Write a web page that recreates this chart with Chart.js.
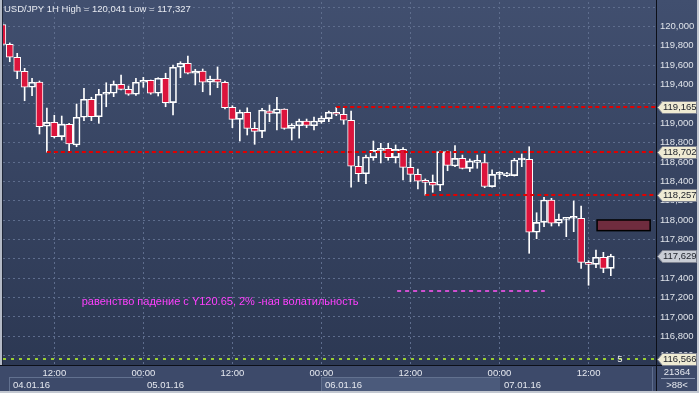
<!DOCTYPE html>
<html><head><meta charset="utf-8">
<script src="https://cdn.jsdelivr.net/npm/chart.js@4/dist/chart.umd.min.js"></script>
<style>html,body{margin:0;padding:0;background:#3a4766;overflow:hidden}#wrap{width:699px;height:393px;position:relative}</style>
</head><body><div id="wrap"><canvas id="c" width="699" height="393"></canvas></div>
<script>
// hours counted from 04.01.16 00:00
const hours = [5,6,7,8,9,10,11,12,13,14,15,16,17,18,19,20,21,22,23,24,25,26,27,28,29,30,31,32,33,34,35,36,37,38,39,40,41,42,43,44,45,46,47,48,49,50,51,52,53,54,55,56,57,58,59,60,61,62,63,64,65,66,67,68,69,70,71,72,73,74,75,76,77,78,79,80,81,82,83,84,85,86,87];
const opens = [120.019,119.816,119.682,119.537,119.372,119.427,118.969,119.010,118.862,118.990,118.776,119.062,119.248,119.068,119.300,119.310,119.403,119.351,119.300,119.424,119.444,119.310,119.465,119.213,119.579,119.620,119.517,119.540,119.424,119.458,119.424,119.165,119.041,119.114,118.948,118.917,119.130,119.103,119.148,118.948,118.975,119.024,118.975,119.017,119.048,119.114,119.093,119.031,118.556,118.479,118.645,118.721,118.742,118.645,118.731,118.545,118.473,118.404,118.390,118.360,118.707,118.559,118.638,118.535,118.597,118.595,118.345,118.473,118.459,118.459,118.621,118.628,117.874,117.977,118.208,117.967,118.008,118.019,118.019,117.564,117.543,117.616,117.502];
const highs = [120.041,119.830,119.723,119.568,119.465,119.437,119.158,119.083,119.075,119.000,119.199,119.362,119.269,119.351,119.419,119.437,119.499,119.385,119.465,119.475,119.447,119.471,119.517,119.602,119.636,119.695,119.558,119.561,119.489,119.582,119.437,119.182,119.137,119.160,119.010,119.155,119.189,119.269,119.150,118.996,119.044,119.044,119.065,119.075,119.127,119.165,119.155,119.127,118.659,118.672,118.817,118.793,118.793,118.776,118.748,118.638,118.528,118.425,118.466,118.714,118.714,118.769,118.672,118.631,118.672,118.681,118.518,118.500,118.494,118.638,118.683,118.758,118.076,118.236,118.225,118.063,118.025,118.197,118.146,117.581,117.691,117.667,117.647];
const lows = [119.800,119.636,119.461,119.233,119.285,118.889,118.702,118.848,118.827,118.707,118.758,119.027,119.027,119.000,119.171,119.275,119.344,119.289,119.289,119.372,119.300,119.282,119.171,119.086,119.471,119.510,119.396,119.326,119.292,119.368,119.148,118.955,118.817,118.879,118.783,118.851,119.017,118.931,118.938,118.827,118.845,118.955,118.931,119.000,119.017,119.079,118.990,118.339,118.397,118.376,118.618,118.590,118.618,118.590,118.414,118.397,118.321,118.257,118.287,118.304,118.510,118.552,118.528,118.500,118.535,118.335,118.340,118.425,118.448,118.455,118.552,117.657,117.808,117.932,117.939,117.939,117.829,117.880,117.502,117.327,117.508,117.457,117.426];
const closes = [119.816,119.682,119.537,119.372,119.424,118.965,119.010,118.862,118.990,118.786,119.062,119.248,119.068,119.300,119.310,119.403,119.351,119.300,119.424,119.444,119.310,119.465,119.213,119.579,119.620,119.517,119.540,119.424,119.458,119.424,119.161,119.041,119.114,118.948,118.917,119.137,119.103,119.148,118.948,118.982,119.024,118.979,119.024,119.055,119.114,119.093,119.031,118.556,118.479,118.652,118.721,118.742,118.645,118.731,118.545,118.473,118.401,118.390,118.360,118.707,118.566,118.638,118.535,118.611,118.611,118.347,118.473,118.473,118.479,118.621,118.621,117.874,117.977,118.208,117.967,118.008,118.019,118.019,117.564,117.543,117.616,117.502,117.629];

const yTickValues = [116.6,116.8,117.0,117.2,117.4,117.6,117.8,118.0,118.2,118.4,118.6,118.8,119.0,119.2,119.4,119.6,119.8,120.0,120.2];
const yTickLabels = ['116,600','116,800','117,000','117,200','117,400','117,600','117,800','118,000','118,200','118,400','118,600','118,800','119,000','119,200','119,400','119,600','119,800','120,000',''];
const xTickHours = [12,24,36,48,60,72,84];
const xTickLabels = ['12:00','00:00','12:00','00:00','12:00','00:00','12:00'];
const dateStartHours = [0,24,48,72];
const dateLabels = ['04.01.16','05.01.16','06.01.16','07.01.16'];

const titleText = 'USD/JPY 1H High = 120,041 Low = 117,327';
const levelValues = [119.165,118.702,118.257];
const levelStartHours = [50,11,62];
const currentPrice = 117.629;
const greenLevel = 116.566;
const greenLabel = '5';
const noteText = 'равенство падение с Y120.65, 2% -ная волатильность';
const noteHour = 15.7, noteValue = 117.155;
const magentaLevel = 117.268, magentaFrom = 58.2, magentaTo = 78.1;
const boxHours = [85.15, 92.3], boxValues = [117.891, 118.001];
const panelTop = '21364', panelBottom = '>88<';

const FAMILY = '"Liberation Sans", Arial, sans-serif';
const FONT = '9.5px ' + FAMILY;
const fmt = v => v.toFixed(3).replace('.', ',');

const bodyData = hours.map((h,i)=>({x:h, y:[opens[i], closes[i]]}));
const upperWick = hours.map((h,i)=>({x:h, y:[Math.max(opens[i],closes[i]), highs[i]]}));
const lowerWick = hours.map((h,i)=>({x:h, y:[lows[i], Math.min(opens[i],closes[i])]}));
const bear = hours.map((h,i)=>closes[i] < opens[i]);

const bgPlugin = {
  id:'bg',
  beforeDraw(chart){
    const {ctx, width, height, chartArea:a} = chart;
    ctx.save();
    const g = ctx.createLinearGradient(0,0,0,a.bottom);
    g.addColorStop(0,'#414f6f'); g.addColorStop(1,'#2c3853');
    ctx.fillStyle = g; ctx.fillRect(0,0,width,a.bottom);
    ctx.fillStyle = '#3d4a6a'; ctx.fillRect(0,a.bottom,width,height-a.bottom);
    ctx.restore();
  },
  beforeDatasetsDraw(chart){
    const {ctx, chartArea:a, scales:{x,y}} = chart;
    ctx.save();
    ctx.beginPath(); ctx.rect(a.left,a.top,a.right-a.left,a.bottom-a.top); ctx.clip();
    const bx0 = x.getPixelForValue(boxHours[0]), bx1 = x.getPixelForValue(boxHours[1]);
    const by0 = y.getPixelForValue(boxValues[1]), by1 = y.getPixelForValue(boxValues[0]);
    ctx.fillStyle = '#6f2c3e'; ctx.fillRect(bx0,by0,bx1-bx0,by1-by0);
    ctx.strokeStyle = '#000'; ctx.lineWidth = 1.5; ctx.strokeRect(bx0,by0,bx1-bx0,by1-by0);
    ctx.restore();
  },
  afterDatasetsDraw(chart){
    const {ctx, width, height, chartArea:a, scales:{x,y}} = chart;
    ctx.save();
    ctx.beginPath(); ctx.rect(a.left,0,a.right-a.left,a.bottom); ctx.clip();
    ctx.strokeStyle = '#e00000'; ctx.lineWidth = 2; ctx.setLineDash([4,3]);
    levelValues.forEach((v,i)=>{
      const py = Math.round(y.getPixelForValue(v));
      ctx.beginPath(); ctx.moveTo(x.getPixelForValue(levelStartHours[i]), py); ctx.lineTo(a.right, py); ctx.stroke();
    });
    const gy = Math.round(y.getPixelForValue(greenLevel));
    ctx.strokeStyle = '#9acd32'; ctx.setLineDash([3,5]);
    ctx.beginPath(); ctx.moveTo(a.left, gy); ctx.lineTo(a.right, gy); ctx.stroke();
    const my = Math.round(y.getPixelForValue(magentaLevel));
    ctx.strokeStyle = '#d050d0'; ctx.setLineDash([4,4]);
    ctx.beginPath(); ctx.moveTo(x.getPixelForValue(magentaFrom), my); ctx.lineTo(x.getPixelForValue(magentaTo), my); ctx.stroke();
    ctx.setLineDash([]);
    ctx.fillStyle = '#ff40ff'; ctx.font = '11px ' + FAMILY;
    ctx.textBaseline = 'middle'; ctx.textAlign = 'left';
    ctx.fillText(noteText, x.getPixelForValue(noteHour), y.getPixelForValue(noteValue));
    ctx.fillStyle = '#e8e8e8'; ctx.font = FONT; ctx.textAlign = 'center';
    ctx.fillText(greenLabel, 620, gy);
    ctx.fillStyle = '#e6e9f0'; ctx.textAlign = 'left';
    ctx.fillText(titleText, 4, 9);
    ctx.restore();

    ctx.save();
    ctx.fillStyle = '#b4bac6'; ctx.fillRect(0,0,2,a.bottom);
    ctx.fillStyle = '#1e2638'; ctx.fillRect(2,0,1,a.bottom);
    ctx.fillStyle = '#0c0f18';
    ctx.fillRect(a.right, 0, 1, height);
    ctx.fillRect(0, a.bottom, width, 1);
    ctx.fillStyle = '#5f6e8e';
    ctx.fillRect(a.right-4, a.bottom+2, 1, height-a.bottom-2);
    ctx.font = FONT; ctx.textBaseline = 'middle'; ctx.textAlign = 'left';
    dateLabels.forEach((lab,i)=>{
      let bx = Math.max(x.getPixelForValue(dateStartHours[i]), 9);
      let ex = i < dateLabels.length-1 ? x.getPixelForValue(dateStartHours[i+1]) : a.right-4;
      bx = Math.round(bx); ex = Math.round(ex);
      if (i === 2) { ctx.fillStyle = '#4b5a7b'; ctx.fillRect(bx, 377, ex-bx, height-377); }
      if (i % 2 === 0) {
        ctx.fillStyle = '#62718f';
        ctx.fillRect(bx, 377, ex-bx, 1);
        ctx.fillRect(bx, 377, 1, height-377);
      }
      ctx.fillStyle = '#e6e9f0';
      ctx.fillText(lab, bx+4, 385);
    });
    ctx.textAlign = 'center';
    ctx.fillText(panelTop, 677, 372);
    ctx.fillStyle = '#8d99b3'; ctx.fillRect(661, 378, 34, 1);
    ctx.fillStyle = '#e6e9f0';
    ctx.fillText(panelBottom, 677, 385);
    const tag = (v, bg) => {
      const py = Math.round(y.getPixelForValue(v)) + 0.5;
      ctx.beginPath();
      ctx.moveTo(657.5, py); ctx.lineTo(662.5, py-6); ctx.lineTo(696.5, py-6);
      ctx.lineTo(696.5, py+6); ctx.lineTo(662.5, py+6); ctx.closePath();
      ctx.fillStyle = bg; ctx.fill();
      ctx.strokeStyle = '#7d8290'; ctx.lineWidth = 1; ctx.stroke();
      ctx.fillStyle = '#20242c'; ctx.textAlign = 'left'; ctx.textBaseline = 'middle';
      ctx.fillText(fmt(v), 663, py);
    };
    levelValues.forEach(v => tag(v, '#efebd3'));
    tag(currentPrice, '#c9cdd5');
    tag(greenLevel, '#efebd3');
    ctx.fillStyle = '#c3c8d1';
    ctx.fillRect(width-2, 0, 2, height);
    ctx.fillRect(0, height-2, width, 2);
    ctx.restore();
  }
};

new Chart(document.getElementById('c'), {
  type: 'bar',
  data: {
    datasets: [
      { data: upperWick, backgroundColor: '#ffffff', borderWidth: 0, barThickness: 1, grouped: false, order: 3 },
      { data: lowerWick, backgroundColor: '#ffffff', borderWidth: 0, barThickness: 1, grouped: false, order: 2 },
      { data: bodyData, backgroundColor: ctx => bear[ctx.dataIndex] ? '#dc143c' : 'rgba(0,0,0,0)',
        borderColor: '#ffffff', borderWidth: 1, borderSkipped: false, barThickness: 7, minBarLength: 2, grouped: false, order: 1 }
    ]
  },
  options: {
    responsive: false, animation: false, devicePixelRatio: 1,
    layout: { padding: { left: 3, top: 2, right: 0, bottom: 0 } },
    plugins: { legend: { display: false }, tooltip: { enabled: false } },
    scales: {
      x: {
        type: 'linear', min: 5.086, max: 93.09, offset: false,
        afterBuildTicks: s => { s.ticks = xTickHours.map(v => ({ value: v })); },
        afterFit: s => { s.height = 28; s.paddingLeft = 0; s.paddingRight = 0; },
        grid: { color: '#5e6d8d', lineWidth: 1, drawTicks: false, offset: false },
        border: { display: false, dash: [2,3] },
        ticks: { color: '#e6e9f0', font: { family: FAMILY, size: 9.5 }, padding: 3,
          autoSkip: false, maxRotation: 0,
          callback: (v) => { const i = xTickHours.indexOf(v); return i >= 0 ? xTickLabels[i] : ''; } }
      },
      y: {
        position: 'right', min: 116.503, max: 120.253,
        afterBuildTicks: s => { s.ticks = yTickValues.map(v => ({ value: v })); },
        afterFit: s => { s.width = 43; s.paddingTop = 0; s.paddingBottom = 0; },
        grid: { color: '#5e6d8d', lineWidth: 1, drawTicks: false },
        border: { display: false, dash: [2,3] },
        ticks: { color: '#dfe3ea', font: { family: FAMILY, size: 9.5 }, padding: 4,
          autoSkip: false,
          callback: (v) => { const i = yTickValues.findIndex(t => Math.abs(t - v) < 1e-6); return i >= 0 ? yTickLabels[i] : ''; } }
      }
    }
  },
  plugins: [bgPlugin]
});
</script></body></html>
